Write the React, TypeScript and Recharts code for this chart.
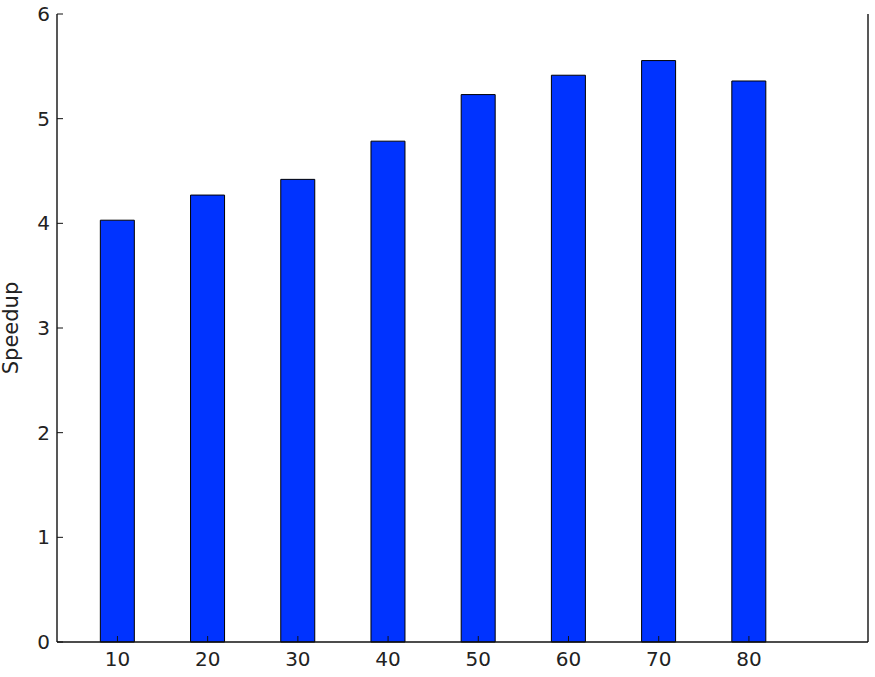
import React from "react";
import { BarChart, Bar, XAxis, YAxis } from "recharts";

const threads = [10, 20, 30, 40, 50, 60, 70, 80];
const speedup = [4.03, 4.27, 4.42, 4.785, 5.23, 5.415, 5.555, 5.36];
const xTicks = [10, 20, 30, 40, 50, 60, 70, 80];
const yTicks = [0, 1, 2, 3, 4, 5, 6];

const data = threads.map((t, i) => ({ t, s: speedup[i] }));

const font = "DejaVu Sans";
const ink = "#111";

function SpeedupLabel(props: any) {
  const vb = props.viewBox || {};
  const cy = (vb.y ?? 14) + (vb.height ?? 628) / 2;
  return (
    <text
      x={12}
      y={cy}
      transform={`rotate(-90, 12, ${cy})`}
      textAnchor="middle"
      dominantBaseline="middle"
      fontFamily={font}
      fontSize={21}
      fill="#222"
    >
      Speedup
    </text>
  );
}

export default function App() {
  const blank = () => "";
  return (
    <div style={{ position: "absolute", left: 0, top: 0, width: 875, height: 677, background: "#fff" }}>
      <BarChart width={875} height={677} data={data} margin={{ top: 14, right: 0, bottom: 0, left: 0 }}>
        <XAxis
          dataKey="t"
          type="number"
          domain={[3.3, 93.2]}
          ticks={xTicks}
          allowDataOverflow
          height={35}
          tickSize={-6}
          tickMargin={16}
          axisLine={{ stroke: ink, strokeWidth: 1.4 }}
          tickLine={{ stroke: ink }}
          tick={{ fill: "#222", fontFamily: font, fontSize: 20 }}
        />
        <XAxis
          xAxisId="top"
          orientation="top"
          dataKey="t"
          type="number"
          domain={[3.3, 93.2]}
          ticks={xTicks}
          allowDataOverflow
          height={0}
          tickSize={-6}
          tickFormatter={blank}
          axisLine={{ stroke: ink, strokeWidth: 1.4 }}
          tickLine={{ stroke: ink }}
        />
        <YAxis
          type="number"
          domain={[0, 6]}
          ticks={yTicks}
          width={57}
          tickSize={-6}
          tickMargin={13}
          axisLine={{ stroke: ink, strokeWidth: 1.4 }}
          tickLine={{ stroke: ink }}
          tick={{ fill: "#222", fontFamily: font, fontSize: 20 }}
          label={<SpeedupLabel />}
        />
        <YAxis
          yAxisId="right"
          orientation="right"
          type="number"
          domain={[0, 6]}
          ticks={yTicks}
          width={7}
          tickSize={-6}
          tickFormatter={blank}
          axisLine={{ stroke: ink, strokeWidth: 1.4 }}
          tickLine={{ stroke: ink }}
        />
        <Bar dataKey="s" barSize={34} fill="#0033ff" stroke="#000" strokeWidth={1} isAnimationActive={false} />
      </BarChart>
    </div>
  );
}
